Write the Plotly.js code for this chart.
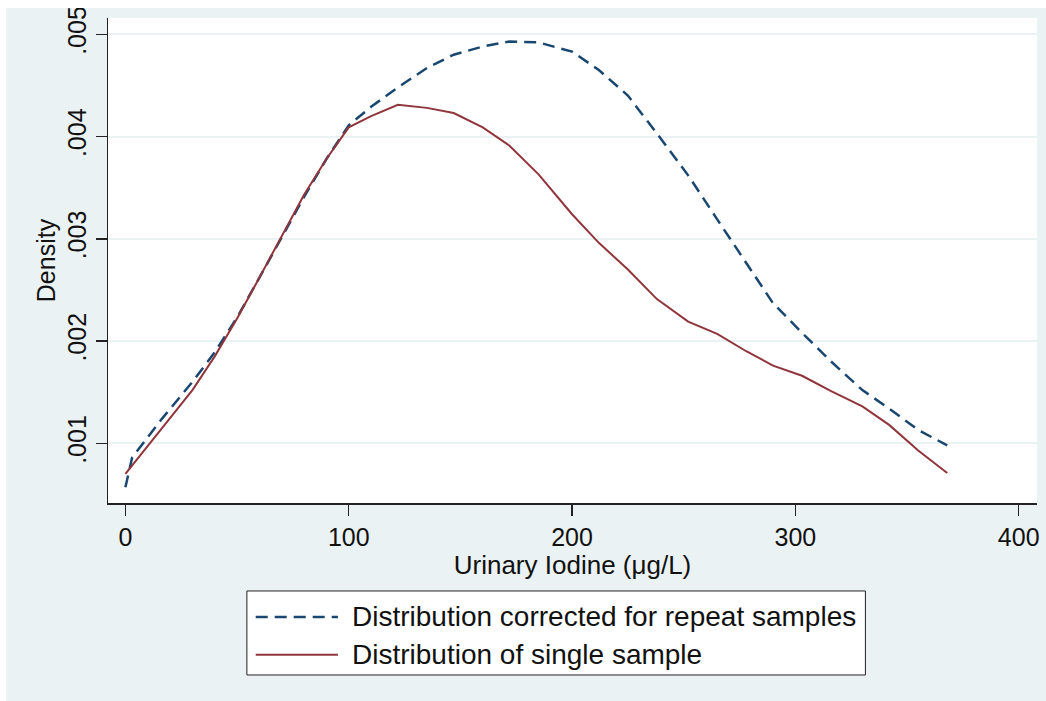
<!DOCTYPE html>
<html>
<head>
<meta charset="utf-8">
<script src="https://cdn.plot.ly/plotly-3.0.1.min.js"></script>
<style>html,body{margin:0;padding:0;background:#eaf2f3;}#chart{width:1046px;height:701px;}</style>
</head>
<body>
<div id="chart"></div>
<script>
// Data
const seriesNames = ["Distribution corrected for repeat samples", "Distribution of single sample"];

const xCorrected = [0, 3, 16, 30, 40, 50, 60, 70, 80, 90, 100, 110, 122, 135, 147, 160, 172, 185, 200, 212, 225, 238, 252, 265, 278, 290, 303, 316, 330, 342, 355, 368];
const yCorrected = [0.00057, 0.00086, 0.00123, 0.00160, 0.00189, 0.00223, 0.00262, 0.00302, 0.00341, 0.00378, 0.00411, 0.00429, 0.00448, 0.00467, 0.00480, 0.00488, 0.00493, 0.00492, 0.00483, 0.00465, 0.00440, 0.00403, 0.00362, 0.00319, 0.00277, 0.00237, 0.00208, 0.00180, 0.00152, 0.00134, 0.00113, 0.00098];

const xSingle = [0, 16, 30, 40, 50, 60, 70, 80, 90, 100, 110, 122, 135, 147, 160, 172, 185, 200, 212, 225, 238, 252, 265, 278, 290, 303, 316, 330, 342, 355, 368];
const ySingle = [0.00070, 0.00114, 0.00152, 0.00185, 0.00222, 0.00262, 0.00303, 0.00343, 0.00378, 0.00409, 0.00420, 0.00431, 0.00428, 0.00423, 0.00409, 0.00391, 0.00363, 0.00324, 0.00296, 0.00270, 0.00241, 0.00219, 0.00207, 0.00190, 0.00176, 0.00166, 0.00151, 0.00136, 0.00118, 0.00093, 0.00071];

const xTickVals = [0, 100, 200, 300, 400];
const xTickText = ["0", "100", "200", "300", "400"];
const yTickVals = [0.001, 0.002, 0.003, 0.004, 0.005];
const yTickText = [".001", ".002", ".003", ".004", ".005"];

const xTitle = "Urinary Iodine (\u03bcg/L)";
const yTitle = "Density";

const navy = "#1a476f";
const maroon = "#90353b";
const bg = "#eaf2f3";
const FONT = "Liberation Sans, Arial, Helvetica, sans-serif";

const traces = [
  {x: xCorrected, y: yCorrected, name: seriesNames[0], type: "scatter", mode: "lines",
   line: {color: navy, width: 2.5, dash: "12px,7px"}, showlegend: false},
  {x: xSingle, y: ySingle, name: seriesNames[1], type: "scatter", mode: "lines",
   line: {color: maroon, width: 2}, showlegend: false}
];

// manual legend (Stata style box with long line samples)
const legendRowsY = [-0.235, -0.313];
const shapes = [
  {type: "rect", xref: "paper", yref: "paper", x0: 0.1495, x1: 0.8153, y0: -0.3546, y1: -0.1814,
   line: {color: "#222", width: 1}, fillcolor: "#ffffff", layer: "above"},
  {type: "line", xref: "paper", yref: "paper", x0: 0.159, x1: 0.2475, y0: legendRowsY[0], y1: legendRowsY[0],
   line: {color: navy, width: 2.5, dash: "12px,7px"}},
  {type: "line", xref: "paper", yref: "paper", x0: 0.159, x1: 0.2475, y0: legendRowsY[1], y1: legendRowsY[1],
   line: {color: maroon, width: 2}},
  // white border of the original image
  {type: "rect", xref: "paper", yref: "paper", x0: -0.12, x1: 1.02, y0: 1.0206, y1: 1.045,
   line: {width: 0}, fillcolor: "#ffffff"},
  {type: "rect", xref: "paper", yref: "paper", x0: -0.12, x1: -0.1097, y0: -0.41, y1: 1.045,
   line: {width: 0}, fillcolor: "#ffffff"}
];
const annotations = seriesNames.map((n, i) => ({
  text: n, xref: "paper", yref: "paper", x: 0.2603, y: legendRowsY[i],
  xanchor: "left", yanchor: "middle", showarrow: false,
  font: {family: FONT, size: 28, color: "#111"}
}));

const layout = {
  width: 1046, height: 701,
  margin: {l: 108, r: 9, t: 18, b: 198, pad: 0},
  paper_bgcolor: bg, plot_bgcolor: "#ffffff",
  font: {family: FONT, size: 24, color: "#111"},
  xaxis: {
    range: [-7.8, 408.2], tickvals: xTickVals, ticktext: xTickText,
    showgrid: false, zeroline: false, showline: true, linecolor: "#222", linewidth: 1.5,
    ticks: "outside", ticklen: 11, tickwidth: 1.5, tickcolor: "#222",
    tickfont: {family: FONT, size: 25, color: "#111"},
    title: {text: xTitle, font: {family: FONT, size: 26, color: "#111"}, standoff: 0}
  },
  yaxis: {
    range: [0.000416, 0.005159], tickvals: yTickVals, ticktext: yTickText, tickangle: -90,
    showgrid: true, gridcolor: bg, gridwidth: 2, zeroline: false,
    showline: true, linecolor: "#222", linewidth: 1.5,
    ticks: "outside", ticklen: 11, tickwidth: 1.5, tickcolor: "#222",
    tickfont: {family: FONT, size: 25, color: "#111"},
    title: {text: yTitle, font: {family: FONT, size: 25, color: "#111"}, standoff: 0}
  },
  shapes: shapes,
  annotations: annotations,
  showlegend: false
};

Plotly.newPlot("chart", traces, layout, {displayModeBar: false, staticPlot: true});
</script>
</body>
</html>
